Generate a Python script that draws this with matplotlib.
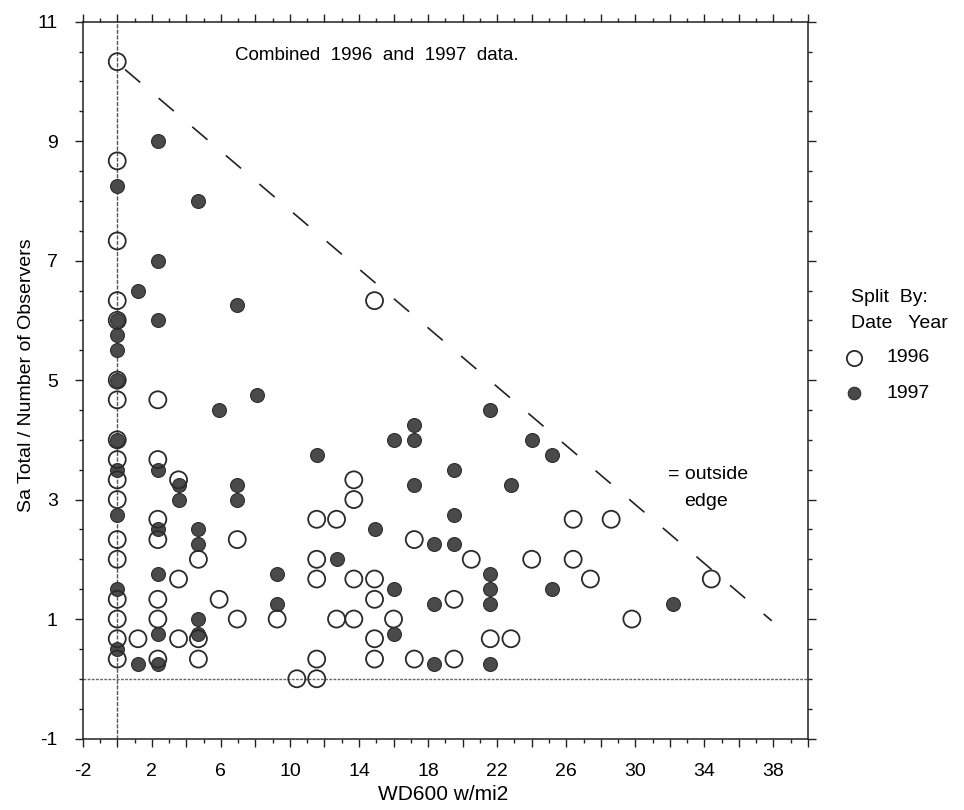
import matplotlib
matplotlib.use("Agg")
import matplotlib.pyplot as plt
import numpy as np
from matplotlib.lines import Line2D

plt.rcParams['font.family'] = ['Liberation Sans', 'DejaVu Sans']

# ---- data ----
# 1996 (open circles)
x96 = [0, 0, 0, 0, 0, 0, 0, 0, 0, 0, 0, 0, 0, 0, 0, 0, 0,
       1.2,
       2.35, 2.35, 2.35, 2.35, 2.35, 2.35, 2.35,
       3.55, 3.55, 3.55,
       4.7, 4.7, 4.7,
       5.9,
       6.95, 6.95,
       9.26,
       10.4,
       11.55, 11.55, 11.55, 11.55, 11.55,
       12.7, 12.7,
       13.7, 13.7, 13.7, 13.7,
       14.9, 14.9, 14.9, 14.9, 14.9,
       16.0,
       17.2, 17.2,
       19.5, 19.5,
       20.5,
       21.6,
       22.8,
       24.0,
       26.4, 26.4,
       27.4,
       28.6,
       29.8,
       34.4]
y96 = [10.33, 8.67, 7.33, 6.33, 6.0, 5.0, 4.67, 4.0, 3.67, 3.33, 3.0, 2.33, 2.0, 1.33, 1.0, 0.67, 0.33,
       0.67,
       4.67, 3.67, 2.67, 2.33, 1.33, 1.0, 0.33,
       3.33, 1.67, 0.67,
       2.0, 0.67, 0.33,
       1.33,
       2.33, 1.0,
       1.0,
       0.0,
       2.67, 2.0, 1.67, 0.33, 0.0,
       2.67, 1.0,
       3.33, 3.0, 1.67, 1.0,
       6.33, 1.67, 1.33, 0.67, 0.33,
       1.0,
       2.33, 0.33,
       1.33, 0.33,
       2.0,
       0.67,
       0.67,
       2.0,
       2.67, 2.0,
       1.67,
       2.67,
       1.0,
       1.67]

# 1997 (filled circles)
x97 = [0, 0, 0, 0, 0, 0, 0, 0, 0, 0,
       1.2, 1.2,
       2.35, 2.35, 2.35, 2.35, 2.35, 2.35, 2.35, 2.35,
       3.55, 3.55,
       4.7, 4.7, 4.7, 4.7, 4.7,
       5.9,
       6.95, 6.95, 6.95,
       8.1,
       9.26, 9.26,
       11.55,
       12.7,
       14.9,
       16.0, 16.0, 16.0,
       17.2, 17.2, 17.2,
       18.35, 18.35, 18.35,
       19.5, 19.5, 19.5,
       21.6, 21.6, 21.6, 21.6, 21.6,
       22.8,
       24.0,
       25.2, 25.2,
       32.2]
y97 = [8.25, 6.0, 5.75, 5.5, 5.0, 4.0, 3.5, 2.75, 1.5, 0.5,
       6.5, 0.25,
       9.0, 7.0, 6.0, 3.5, 2.5, 1.75, 0.75, 0.25,
       3.25, 3.0,
       8.0, 2.5, 2.25, 1.0, 0.75,
       4.5,
       6.25, 3.25, 3.0,
       4.75,
       1.75, 1.25,
       3.75,
       2.0,
       2.5,
       4.0, 1.5, 0.75,
       4.25, 4.0, 3.25,
       2.25, 1.25, 0.25,
       3.5, 2.75, 2.25,
       4.5, 1.75, 1.5, 1.25, 0.25,
       3.25,
       4.0,
       3.75, 1.5,
       1.25]

# outside-edge line endpoints
edge_x = [0.45, 37.9]
edge_y = [10.2, 0.97]

x_labels = ['-2', '2', '6', '10', '14', '18', '22', '26', '30', '34', '38']
y_labels = ['-1', '1', '3', '5', '7', '9', '11']

# ---- figure ----
W, H = 964, 810
fig = plt.figure(figsize=(W / 100, H / 100), dpi=100)
ax = fig.add_axes([82.7 / W, 1 - 738.5 / H, (808 - 82.7) / W, (738.5 - 21.7) / H])

ax.set_xlim(-2, 40)
ax.set_ylim(-1, 11)

# reference lines
ax.axhline(0, color='#666666', lw=1.0, ls=(0, (2, 1)), zorder=1)
ax.axvline(0, color='#555555', lw=1.0, ls=(0, (3, 1)), zorder=1)

# outside edge dashed line
ax.plot(edge_x, edge_y, color='#222222', lw=1.2, ls=(0, (12, 14.5)), zorder=2)

ax.scatter(x97, y97, s=100, facecolor='#4a4a4a', edgecolor='#2e2e2e',
           linewidths=0.8, zorder=3)
ax.scatter(x96, y96, s=150, facecolor='none', edgecolor='#2a2a2a',
           linewidths=1.3, zorder=4)

# ticks
xt = np.arange(-2, 41, 2)
ax.set_xticks(xt)
ax.set_xticklabels([str(v) if str(v) in x_labels else '' for v in xt])
ax.set_xticks(np.arange(-2, 41, 1), minor=True)
yt = np.arange(-1, 12, 2)
ax.set_yticks(yt)
ax.set_yticklabels(y_labels)
ax.set_yticks(np.arange(-1, 11.01, 0.5), minor=True)

ax.tick_params(which='both', direction='out', top=True, right=True,
               labeltop=False, labelright=False, width=1.0, color='#222222')
ax.tick_params(which='major', length=6, pad=12, labelsize=14)
ax.tick_params(which='minor', length=3)
for s in ax.spines.values():
    s.set_linewidth(1.1)
    s.set_color('#222222')

# annotations
ax.text(6.82, 10.44, 'Combined  1996  and  1997  data.', ha='left',
        va='center', fontsize=13.5)
ax.text(31.9, 3.42, '= outside', ha='left', va='center', fontsize=14)
ax.text(32.85, 2.97, 'edge', ha='left', va='center', fontsize=14)

fig.text(27 / W, 1 - 375 / H, 'Sa Total / Number of Observers', rotation=90,
         ha='center', va='center', fontsize=14)
fig.text(443 / W, 1 - 795 / H, 'WD600 w/mi2', ha='center', va='center',
         fontsize=15)

# legend (outside right)
fig.text(851 / W, 1 - 298 / H, 'Split  By:', ha='left', va='center', fontsize=14)
fig.text(851 / W, 1 - 323 / H, 'Date   Year', ha='left', va='center', fontsize=14)
fig.add_artist(Line2D([854 / W], [1 - 358 / H], marker='o', markersize=11,
                      markerfacecolor='none', markeredgecolor='#2a2a2a',
                      markeredgewidth=1.3, transform=fig.transFigure))
fig.text(887 / W, 1 - 358 / H, '1996', ha='left', va='center', fontsize=14)
fig.add_artist(Line2D([854 / W], [1 - 393 / H], marker='o', markersize=9,
                      markerfacecolor='#4a4a4a', markeredgecolor='#2e2e2e',
                      markeredgewidth=0.8, transform=fig.transFigure))
fig.text(887 / W, 1 - 393 / H, '1997', ha='left', va='center', fontsize=14)

fig.savefig('out.png', dpi=100)
